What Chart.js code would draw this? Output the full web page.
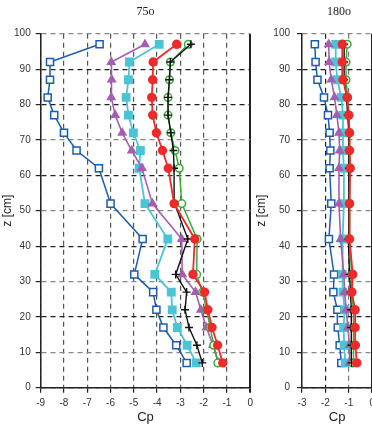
<!DOCTYPE html>
<html>
<head>
<meta charset="utf-8">
<script src="https://cdn.jsdelivr.net/npm/chart.js@4/dist/chart.umd.min.js"></script>
<style>
  html, body { margin: 0; padding: 0; background: #fff; overflow: hidden; }
  #wrap { position: relative; width: 372px; height: 426px; overflow: hidden; }
  #c75 { position: absolute; left: 0; top: 0; }
  #c180 { position: absolute; left: 254px; top: 0; }
</style>
</head>
<body>
<div id="wrap">
  <canvas id="c75" width="258" height="426"></canvas>
  <canvas id="c180" width="126" height="426"></canvas>
</div>
<script>
// heights above floor, cm
const zLevels = [7, 12, 17, 22, 27, 32, 42, 52, 62, 67, 72, 77, 82, 87, 92, 97];

// 75 deg panel, Cp per level
const blue75   = [-2.73, -3.18, -3.73, -4.03, -4.17, -4.98, -4.62, -6.0, -6.5, -7.46, -8.0, -8.42, -8.7, -8.6, -8.6, -6.47];
const purple75 = [-1.35, -1.6, -1.88, -2.12, -2.35, -2.92, -2.94, -4.2, -4.65, -5.09, -5.5, -5.8, -5.97, -5.95, -5.97, -4.52];
const cyan75   = [-2.32, -2.71, -3.13, -3.35, -3.39, -4.1, -3.54, -4.52, -4.77, -4.72, -5.02, -5.23, -5.33, -5.23, -5.19, -3.91];
const red75    = [-1.18, -1.4, -1.64, -1.82, -1.96, -2.46, -2.38, -3.27, -3.52, -3.77, -4.03, -4.19, -4.23, -4.19, -4.17, -3.16];
const green75  = [-1.39, -1.57, -1.72, -1.87, -2.05, -2.3, -2.28, -2.94, -3.05, -3.23, -3.41, -3.53, -3.53, -3.47, -3.43, -2.66];
const black75  = [-2.06, -2.29, -2.63, -2.8, -2.73, -3.2, -2.68, -3.25, -3.27, -3.3, -3.41, -3.53, -3.53, -3.47, -3.43, -2.55];

// 180 deg panel
const blue180   = [-1.32, -1.39, -1.47, -1.49, -1.66, -1.63, -1.85, -1.75, -1.82, -1.79, -1.82, -1.89, -2.06, -2.34, -2.42, -2.45];
const purple180 = [-0.97, -0.97, -1.04, -1.11, -1.18, -1.21, -1.35, -1.42, -1.42, -1.39, -1.42, -1.51, -1.61, -1.75, -1.84, -1.86];
const cyan180   = [-1.15, -1.2, -1.22, -1.18, -1.25, -1.28, -1.25, -1.21, -1.21, -1.25, -1.25, -1.25, -1.32, -1.49, -1.56, -1.56];
const red180    = [-0.66, -0.72, -0.73, -0.73, -0.87, -0.83, -0.97, -0.97, -0.94, -0.97, -0.97, -1.0, -1.07, -1.25, -1.28, -1.28];
const green180  = [-0.82, -0.8, -0.8, -0.8, -0.88, -0.88, -0.97, -0.97, -0.95, -0.97, -0.97, -1.0, -1.05, -1.12, -1.12, -1.07];
const black180  = [-0.88, -0.88, -0.9, -0.9, -0.93, -0.97, -1.02, -1.0, -1.0, -1.0, -1.0, -1.05, -1.1, -1.2, -1.2, -1.2];

const xTicks75 = [-9, 0];
const xTicks180 = [-3, 0];
const yTicks = [0, 100];

const sans = "'Liberation Sans', Arial, sans-serif";
const grayRows = [100, 70, 50, 30, 10];

function pts(xs) {
  return xs.map((x, i) => ({ x: x, y: zLevels[i] }));
}

// draw top-first: red on top, blue at the bottom
function makeSets(red, black, green, purple, cyan, blue) {
  return [
    { data: pts(red), borderColor: '#ee2a2a', backgroundColor: '#ee2a2a', pointStyle: 'circle', pointRadius: 3.8, borderWidth: 1.8 },
    { data: pts(black), borderColor: '#111', backgroundColor: '#111', pointStyle: 'cross', pointRadius: 4, borderWidth: 1.4 },
    { data: pts(green), borderColor: '#3caa3a', backgroundColor: '#fff', pointStyle: 'circle', pointRadius: 3.8, borderWidth: 1.5 },
    { data: pts(purple), borderColor: '#a45fb0', backgroundColor: '#a45fb0', pointStyle: 'triangle', pointRadius: 4.2, borderWidth: 1.6 },
    { data: pts(cyan), borderColor: '#4dc4d6', backgroundColor: '#4dc4d6', pointStyle: 'rect', pointRadius: 5, borderWidth: 1.8 },
    { data: pts(blue), borderColor: '#1c5cac', backgroundColor: '#fff', pointStyle: 'rect', pointRadius: 5, borderWidth: 1.5 }
  ].map(d => Object.assign(d, { showLine: true, pointHoverRadius: d.pointRadius }));
}

const panelTitle = {
  id: 'panelTitle',
  afterDraw(chart, args, opts) {
    const { ctx, chartArea } = chart;
    ctx.save();
    ctx.font = "12px 'Liberation Serif', 'Times New Roman', serif";
    ctx.fillStyle = '#222';
    ctx.textAlign = 'center';
    ctx.textBaseline = 'middle';
    ctx.fillText(opts.text, (chartArea.left + chartArea.right) / 2 + (opts.dx || 0), 12);
    ctx.restore();
  }
};

function makeChart(id, title, xRange, yWidth, padRight, sets, vGridColor, titleDx, yTickPad) {
  return new Chart(document.getElementById(id), {
    type: 'scatter',
    data: { datasets: sets },
    plugins: [panelTitle],
    options: {
      responsive: false,
      animation: false,
      layout: { padding: { top: 33.7, right: padRight, bottom: 0, left: 0 } },
      plugins: {
        legend: { display: false },
        tooltip: { enabled: false },
        panelTitle: { text: title, dx: titleDx }
      },
      scales: {
        x: {
          type: 'linear',
          min: xRange[0],
          max: xRange[1],
          afterFit: s => { s.height = 38.3; },
          ticks: { stepSize: 1, color: '#333', padding: 5, font: { family: sans, size: 10 } },
          grid: {
            color: c => (c.tick && c.tick.value === 0) ? '#222' : vGridColor(c.tick ? c.tick.value : 0),
            lineWidth: c => (c.tick && c.tick.value === 0) ? 2 : 1.2,
            tickLength: 5,
            tickColor: '#222',
            tickBorderDash: []
          },
          border: {
            color: '#222',
            width: 1.5,
            dash: c => (c.tick && c.tick.value === 0) ? [] : [5, 4]
          },
          title: { display: true, text: 'Cp', color: '#222', padding: { top: 0, bottom: 1 }, font: { family: sans, size: 13 } }
        },
        y: {
          type: 'linear',
          min: yTicks[0],
          max: yTicks[1],
          afterFit: s => { s.width = yWidth; },
          ticks: { stepSize: 10, color: '#333', padding: yTickPad, font: { family: sans, size: 10 } },
          grid: {
            color: c => (c.tick && grayRows.includes(c.tick.value)) ? '#888' : '#222',
            lineWidth: 1.2,
            tickLength: 5,
            tickColor: '#222',
            tickBorderDash: []
          },
          border: { color: '#222', width: 1.5, dash: [5, 4] },
          title: { display: true, text: 'z [cm]', color: '#222', padding: { top: 0, bottom: 0 }, font: { family: sans, size: 12 } }
        }
      }
    }
  });
}

makeChart('c75', '75o', xTicks75, 40.7, 6.3,
  makeSets(red75, black75, green75, purple75, cyan75, blue75),
  v => '#555', 0, 5);

makeChart('c180', '180o', xTicks180, 48, 7.2,
  makeSets(red180, black180, green180, purple180, cyan180, blue180),
  v => v === -2 ? '#222' : '#777', 2, 7);
</script>
</body>
</html>
